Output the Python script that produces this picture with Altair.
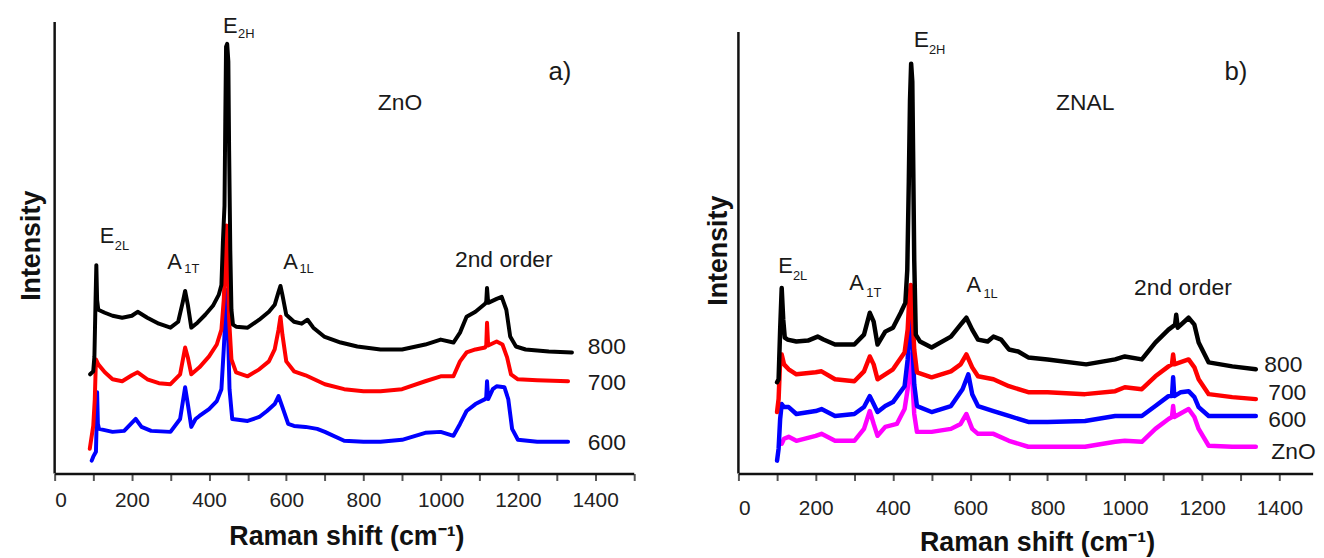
import altair as alt
import pandas as pd

FONT = "Liberation Sans"

# ---------------- panel a) ZnO ----------------
a800_x = [92, 100, 103, 106, 108, 110, 113, 130, 150, 175, 200, 215, 240, 270, 300, 320, 332, 338, 345, 354,
          370, 390, 410, 425, 432, 436, 440, 442, 444, 447, 450, 452, 455, 458, 462, 470, 500, 530, 555, 570,
          580, 585, 590, 600, 620, 640, 655, 670, 698, 741, 784, 844, 900, 960, 1000, 1033, 1050, 1067, 1090,
          1115, 1118, 1120, 1123, 1145, 1158, 1170, 1180, 1195, 1220, 1280, 1340]
a800_y = [100, 103, 118, 175, 210, 175, 165, 162, 159, 157, 159, 163, 157, 151, 147, 153, 173, 184, 170, 147,
          152, 160, 169, 180, 190, 235, 270, 355, 430, 433, 415, 325, 225, 165, 150, 148, 147, 155, 163, 170,
          183, 189, 180, 160, 153, 151, 155, 147, 138, 132, 128, 125, 125, 130, 135, 132, 142, 158, 163,
          171, 173, 187, 172, 176, 178, 165, 138, 128, 125, 123, 122]

a700_x = [91, 100, 104, 107, 113, 130, 150, 175, 200, 215, 240, 270, 300, 325, 338, 345, 354, 375, 400, 420,
          432, 438, 442, 445, 448, 452, 458, 470, 500, 530, 555, 570, 580, 585, 590, 600, 620, 650, 700, 750,
          800, 844, 900, 960, 1000, 1033, 1050, 1067, 1090, 1115, 1118, 1120, 1123, 1145, 1160, 1172, 1182,
          1200, 1250, 1330]
a700_y = [25, 48, 75, 115, 110, 102, 95, 93, 99, 102, 95, 91, 90, 100, 127, 117, 100, 107, 118, 130,
          145, 175, 215, 250, 215, 155, 115, 102, 98, 105, 113, 125, 145, 158, 140, 113, 103, 99, 90, 85,
          83, 83, 85, 93, 98, 98, 113, 122, 125, 127, 129, 152, 129, 133, 130, 117, 100,
          95, 94, 93]

a600_x = [96, 100, 107, 109, 110, 112, 115, 150, 180, 200, 210, 225, 250, 300, 325, 338, 345, 354, 365, 375,
          400, 420, 432, 438, 442, 445, 449, 453, 460, 500, 530, 550, 570, 580, 590, 605, 620, 650, 680, 700,
          750, 800, 844, 900, 960, 1000, 1033, 1050, 1067, 1090, 1115, 1118, 1120, 1123, 1135, 1145, 1165,
          1175, 1185, 1200, 1250, 1330]
a600_y = [13, 17, 22, 55, 82, 50, 45, 42, 43, 51, 55, 47, 43, 42, 55, 87, 70, 47, 55, 58,
          65, 73, 85, 125, 155, 185, 145, 85, 55, 53, 57, 63, 70, 78, 67, 50, 48, 47, 45, 42,
          33, 32, 32, 34, 41, 42, 38, 50, 63, 70, 75, 77, 93, 75, 85, 88, 87,
          75, 45, 34, 32, 32]

a_ann_text = ["E", "2L", "A", "1T", "E", "2H", "A", "1L", "2nd order", "ZnO", "a)", "800", "700", "600"]
a_ann_x = [117, 156, 292, 336, 436, 475, 592, 634, 1037, 837, 1279, 1381, 1381, 1381]
a_ann_y = [232, 225, 206, 202, 444, 439, 206, 202, 208, 366, 397, 120, 84, 24]
a_ann_size = [22, 13, 22, 13, 22, 13, 22, 13, 23, 23, 26, 23, 23, 23]

# ---------------- panel b) ZNAL ----------------
b800_x = [100, 104, 108, 112, 116, 120, 127, 150, 180, 205, 220, 250, 300, 325, 340, 350, 360, 380, 400, 420,
          432, 437, 441, 444, 447, 450, 452, 455, 459, 470, 500, 550, 575, 590, 605, 620, 645, 660, 680, 700,
          724, 750, 800, 900, 975, 1000, 1044, 1079, 1113, 1130, 1133, 1137, 1165, 1180, 1191, 1217, 1278, 1339]
b800_y = [92, 95, 145, 187, 155, 137, 135, 133, 134, 138, 135, 130, 130, 140, 162, 153, 130, 143, 147, 162,
          172, 205, 295, 375, 413, 395, 325, 215, 140, 133, 127, 138, 150, 157, 145, 135, 133, 138, 135, 125,
          123, 117, 115, 110, 115, 118, 115, 132, 145, 150, 160, 147, 157, 150, 132, 112, 108, 105]

b700_x = [100, 104, 108, 112, 118, 130, 150, 200, 215, 250, 300, 325, 340, 350, 360, 380, 400, 430, 438, 442,
          446, 450, 455, 462, 500, 550, 575, 590, 605, 620, 660, 700, 750, 800, 897, 975, 1000, 1044, 1079,
          1113, 1122, 1125, 1128, 1165, 1180, 1191, 1217, 1278, 1339]
b700_y = [62, 75, 115, 120, 110, 105, 100, 102, 103, 95, 93, 103, 118, 110, 95, 100, 105, 122, 145, 175,
          190, 165, 125, 102, 97, 103, 110, 120, 107, 98, 95, 88, 82, 82, 80, 83, 87, 85, 98,
          108, 110, 120, 110, 115, 107, 95, 80, 77, 75]

b600_x = [100, 104, 108, 112, 118, 130, 150, 200, 215, 250, 300, 325, 340, 350, 360, 380, 400, 430, 438, 442,
          446, 450, 455, 462, 500, 550, 580, 595, 605, 620, 660, 700, 750, 800, 897, 975, 1044, 1079, 1113,
          1122, 1125, 1128, 1145, 1165, 1180, 1191, 1217, 1278, 1339]
b600_y = [13, 25, 55, 70, 67, 67, 60, 63, 65, 58, 60, 67, 78, 70, 62, 68, 72, 88, 115, 145,
          165, 135, 90, 68, 62, 68, 85, 100, 80, 68, 63, 58, 52, 52, 53, 58, 58, 68, 78,
          78, 97, 78, 82, 83, 77, 67, 58, 58, 58]

bzno_x = [112, 118, 130, 150, 200, 215, 250, 300, 325, 340, 350, 360, 380, 410, 430, 438, 442, 446, 450, 455,
          462, 500, 550, 575, 590, 605, 620, 660, 700, 750, 800, 897, 975, 1000, 1044, 1079, 1113, 1122, 1125,
          1128, 1165, 1180, 1191, 1217, 1278, 1339]
bzno_y = [30, 35, 37, 33, 38, 40, 33, 33, 45, 63, 50, 38, 47, 50, 65, 85, 110, 120, 95, 60,
          42, 42, 45, 50, 60, 45, 40, 40, 33, 27, 27, 27, 32, 33, 32, 45, 55, 57, 68,
          57, 65, 57, 45, 28, 27, 27]

b_ann_text = ["E", "2L", "A", "1T", "E", "2H", "A", "1L", "2nd order", "ZNAL", "b)", "800", "700", "600", "ZnO"]
b_ann_x = [103, 141, 287, 331, 454, 493, 590, 634, 1024, 822, 1258, 1361, 1371, 1371, 1379]
b_ann_y = [202, 195, 185, 178, 430, 423, 183, 177, 180, 366, 397, 102, 74, 47, 15]
b_ann_size = [22, 13, 22, 13, 23, 13, 22, 13, 23, 23, 26, 23, 23, 23, 23]

PLOT_H = 467


def panel(series, ann, xmax, width, axis_top, label_pad, title_x, title_y,
          ytitle_y, ytitle_pad, stroke):
    x_scale = alt.Scale(domain=[0, xmax], nice=False, zero=False)
    y_scale = alt.Scale(domain=[0, PLOT_H], nice=False, zero=False)
    tick_vals = list(range(0, int(xmax) + 1, 100))
    x_axis = alt.Axis(
        values=tick_vals, format="d",
        labelExpr="datum.value % 200 == 0 && datum.value <= 1400 ? datum.label : ''",
        title="Raman shift (cm\u207b\u00b9)", titleX=title_x, titleY=title_y,
        labelPadding=label_pad, tickSize=7, grid=False,
    )
    y_axis = alt.Axis(
        title="Intensity", domain=False, ticks=False, labels=False, grid=False,
        titleY=ytitle_y, titlePadding=ytitle_pad,
    )
    X = alt.X("shift:Q", scale=x_scale, axis=x_axis)
    Y = alt.Y("intensity:Q", scale=y_scale, axis=y_axis)

    layers = []
    for xs, ys, color in series:
        df = pd.DataFrame({"shift": xs, "intensity": ys})
        layers.append(
            alt.Chart(df).mark_line(color=color, strokeWidth=stroke, strokeJoin="round",
                                    strokeCap="round").encode(x=X, y=Y)
        )
    texts, xs, ys, sizes = ann
    tdf = pd.DataFrame({"label": texts, "shift": xs, "intensity": ys, "fs": sizes})
    layers.append(
        alt.Chart(tdf).mark_text(align="left", baseline="alphabetic", font=FONT,
                                 color="#1a1a1a").encode(
            x=X, y=Y, text="label:N",
            size=alt.Size("fs:Q", scale=None, legend=None))
    )
    axis_line = alt.Chart(pd.DataFrame({"a": [0]})).mark_rule(
        color="#111111", strokeWidth=2.5).encode(
        x=alt.value(0), y=alt.value(axis_top), y2=alt.value(PLOT_H))
    layers.append(axis_line)
    return alt.layer(*layers).properties(width=width, height=PLOT_H)


left = panel(
    [(a600_x, a600_y, "#0000ff"), (a700_x, a700_y, "#ff0000"), (a800_x, a800_y, "#000000")],
    (a_ann_text, a_ann_x, a_ann_y, a_ann_size),
    xmax=1500, width=583.5, axis_top=12, label_pad=9, title_x=294, title_y=51,
    ytitle_y=237, ytitle_pad=9, stroke=4,
)
right = panel(
    [(bzno_x, bzno_y, "#ff00ff"), (b600_x, b600_y, "#0000ff"), (b700_x, b700_y, "#ff0000"),
     (b800_x, b800_y, "#000000")],
    (b_ann_text, b_ann_x, b_ann_y, b_ann_size),
    xmax=1486, width=578.6, axis_top=22, label_pad=17, title_x=301, title_y=57,
    ytitle_y=242, ytitle_pad=6, stroke=4.5,
)

chart = alt.hconcat(left, right, spacing=70).properties(
    padding={"left": 10, "top": 0, "right": 0, "bottom": 0}
).configure(font=FONT).configure_view(stroke=None).configure_axis(
    domainColor="#111111", domainWidth=2.5, tickColor="#555555", tickWidth=2,
    labelFont=FONT, labelFontSize=21, labelColor="#222222",
    titleFont=FONT, titleFontSize=27, titleFontWeight="bold", titleColor="#111111",
)

chart.save("out.html", embed_options={"renderer": "svg", "actions": False})
